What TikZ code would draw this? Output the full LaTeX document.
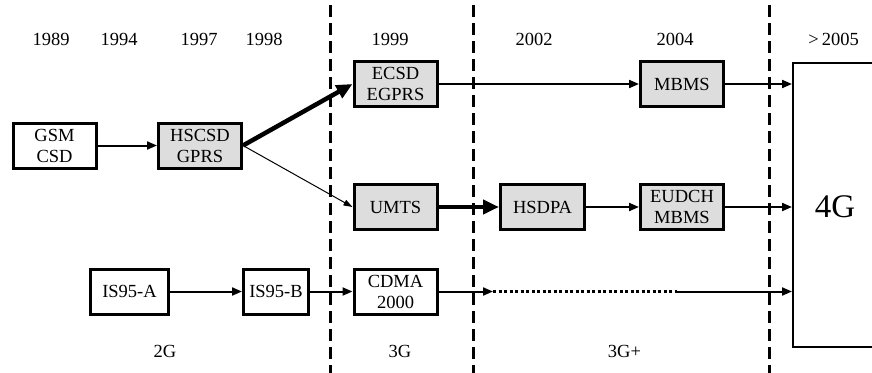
\documentclass[tikz,border=0pt]{standalone}
\usepackage{fontspec}
\setmainfont{Liberation Serif}
\usetikzlibrary{arrows.meta}
\definecolor{boxgrey}{RGB}{221,221,221}
\begin{document}
\begin{tikzpicture}[x=1pt,y=-1pt,
  txt/.style={font=\fontsize{18.5}{21}\selectfont, inner sep=0pt},
  year/.style={txt, anchor=base},
  box/.style={draw, line width=3pt, inner sep=0pt, minimum width=83pt,
    minimum height=45pt, align=center, font=\fontsize{18.5}{21}\selectfont},
  greybox/.style={box, fill=boxgrey},
  era/.style={line width=3pt, dash pattern=on 12pt off 6pt},
  midarrow/.style={line width=2pt, -{Triangle[length=10pt,width=8pt]}},
  boldarrow/.style={line width=4.5pt, -{Triangle[length=16pt,width=14pt]}},
  thinarrow/.style={line width=1pt, -{Triangle[length=9pt,width=6pt]}},
  plainline/.style={line width=2pt},
  dotline/.style={line width=2.5pt, dash pattern=on 3pt off 2.5pt},
]
\useasboundingbox (0,0) rectangle (872,372);

% era separators
\draw[era] (330,5) -- (330,380);
\draw[era] (473,5) -- (473,380);
\draw[era] (769,5) -- (769,380);

% years
\node[year] (y1989) at (51,45) {1989};
\node[year] (y1994) at (119,45) {1994};
\node[year] (y1997) at (199,45) {1997};
\node[year] (y1998) at (264,45) {1998};
\node[year] (y1999) at (390,45) {1999};
\node[year] (y2002) at (534,45) {2002};
\node[year] (y2004) at (675,45) {2004};
\node[year] (y2005) at (833.5,45) {>\,2005};

% generations
\node[year] (g2) at (165,357) {2G};
\node[year] (g3) at (400,357) {3G};
\node[year] (g3p) at (624.5,357) {3G+};

% technologies
\node[box]     (gsm)   at (54.5,145.5) {GSM\\CSD};
\node[greybox] (hscsd) at (200,145.5)  {HSCSD\\GPRS};
\node[greybox] (ecsd)  at (395.5,84)   {ECSD\\EGPRS};
\node[greybox] (mbms)  at (682,84)     {MBMS};
\node[greybox] (umts)  at (395.5,207)  {UMTS};
\node[greybox, minimum width=84pt] (hsdpa) at (542.5,207) {HSDPA};
\node[greybox] (eudch) at (682,207)    {EUDCH\\MBMS};
\node[box, minimum width=78pt] (is95a) at (129.5,291.5) {IS95-A};
\node[box, minimum width=65pt] (is95b) at (276,291.5)   {IS95-B};
\node[box]     (cdma)  at (395.5,291.5) {CDMA\\2000};

% 4G block, open to the right
\node[draw, line width=2pt, minimum width=200pt, minimum height=284pt,
  inner sep=0pt, anchor=west] (g4) at (792,205) {};
\node[txt, font=\fontsize{33}{36}\selectfont] (g4label) at (835,207) {4G};

% evolution paths
\draw[midarrow]  (gsm) -- (hscsd);
\draw[boldarrow] (hscsd.east) -- (ecsd.west);
\draw[thinarrow] (hscsd.east) -- (umts.west);
\draw[midarrow]  (ecsd) -- (mbms);
\draw[midarrow]  (mbms.east) -- (mbms.east -| g4.west);
\draw[boldarrow] (umts) -- (hsdpa);
\draw[midarrow]  (hsdpa) -- (eudch);
\draw[midarrow]  (eudch.east) -- (eudch.east -| g4.west);
\draw[midarrow]  (is95a) -- (is95b);
\draw[midarrow]  (is95b) -- (cdma);

\coordinate (d1) at (493,291.5);
\coordinate (d2) at (677,291.5);
\draw[midarrow] (cdma.east) -- (d1);
\draw[dotline]  (d1) -- (d2);
\draw[midarrow] (d2) -- (d2 -| g4.west);
\end{tikzpicture}
\end{document}
